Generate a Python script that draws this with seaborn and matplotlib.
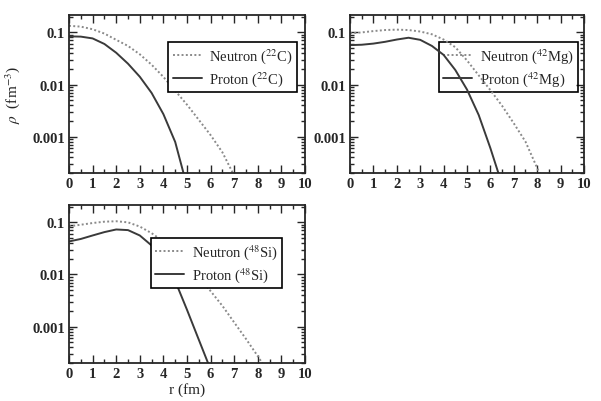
import numpy as np
import pandas as pd
import seaborn as sns
import matplotlib.pyplot as plt
from matplotlib.ticker import LogLocator, MultipleLocator, FixedLocator, NullFormatter

# --- data (rho in fm^-3 vs r in fm) ---
r_c_n = [0, 0.5, 1, 1.5, 2, 2.5, 3, 3.5, 4, 4.5, 5, 5.5, 6, 6.5, 7]
rho_c_n = [0.134, 0.129, 0.115, 0.095, 0.072, 0.055, 0.038, 0.024, 0.014,
           0.0076, 0.0041, 0.0021, 0.00107, 0.0005, 0.000178]
r_c_p = [0, 0.5, 1, 1.5, 2, 2.5, 3, 3.5, 4, 4.5, 5]
rho_c_p = [0.084, 0.083, 0.0767, 0.060, 0.0407, 0.0251, 0.0141, 0.0069,
           0.0027, 0.00079, 0.000112]

r_mg_n = [0, 0.5, 1, 1.5, 2, 2.5, 3, 3.5, 4, 4.5, 5, 5.5, 6, 6.5, 7, 7.5, 8, 8.5]
rho_mg_n = [0.096, 0.1, 0.106, 0.111, 0.113, 0.111, 0.104, 0.092, 0.073,
            0.052, 0.029, 0.015, 0.0078, 0.0039, 0.0018, 0.0008, 0.00025, 0.00008]
r_mg_p = [0, 0.5, 1, 1.5, 2, 2.5, 3, 3.5, 4, 4.5, 5, 5.5, 6, 6.5]
rho_mg_p = [0.057, 0.058, 0.061, 0.066, 0.073, 0.079, 0.072, 0.055, 0.037,
            0.019, 0.008, 0.0026, 0.0006, 0.00012]

r_si_n = [0, 0.5, 1, 1.5, 2, 2.5, 3, 3.5, 4, 4.5, 5, 5.5, 6, 6.5, 7, 7.5, 8, 8.5]
rho_si_n = [0.084, 0.09, 0.097, 0.103, 0.105, 0.1, 0.083, 0.062, 0.043,
            0.027, 0.016, 0.0088, 0.0048, 0.0025, 0.0012, 0.00058, 0.00027, 0.00012]
r_si_p = [0, 0.5, 1, 1.5, 2, 2.5, 3, 3.5, 4, 4.5, 5, 5.5, 6]
rho_si_p = [0.043, 0.048, 0.056, 0.065, 0.073, 0.071, 0.056, 0.036, 0.019,
            0.0075, 0.0021, 0.00056, 0.00015]

nuclei = ["$^{22}$C", "$^{42}$Mg", "$^{48}$Si"]
y_ticks = [0.1, 0.01, 0.001]
y_tick_labels = ["0.1", "0.01", "0.001"]
x_ticks = list(range(0, 11))

sns.set_style("ticks")
plt.rcParams["font.family"] = ["Liberation Serif", "DejaVu Serif"]
plt.rcParams["mathtext.fontset"] = "stix"

fig = plt.figure(figsize=(6.01, 4.02), dpi=100)
axes = [
    fig.add_axes([0.1148, 0.567, 0.3927, 0.393]),
    fig.add_axes([0.5824, 0.567, 0.3893, 0.393]),
    fig.add_axes([0.1148, 0.0945, 0.3927, 0.393]),
]

panels = [
    (r_c_n, rho_c_n, r_c_p, rho_c_p),
    (r_mg_n, rho_mg_n, r_mg_p, rho_mg_p),
    (r_si_n, rho_si_n, r_si_p, rho_si_p),
]
legend_anchor = [(0.966, 0.829), (0.975, 0.829), (0.903, 0.791)]

for i, (ax, (rn, dn, rp, dp)) in enumerate(zip(axes, panels)):
    df_n = pd.DataFrame({"r": rn, "rho": dn})
    df_p = pd.DataFrame({"r": rp, "rho": dp})
    sns.lineplot(data=df_n, x="r", y="rho", ax=ax, color="#8a8a8a",
                 linestyle=(0, (1.0, 1.2)), linewidth=1.4,
                 label="Neutron (" + nuclei[i] + ")")
    sns.lineplot(data=df_p, x="r", y="rho", ax=ax, color="#3a3a3a",
                 linewidth=1.4, label="Proton (" + nuclei[i] + ")")
    ax.set_yscale("log")
    ax.set_xlim(0, 10)
    ax.set_ylim(2e-4, 0.215)

    ax.xaxis.set_major_locator(FixedLocator(x_ticks))
    ax.xaxis.set_minor_locator(MultipleLocator(0.5))
    ax.yaxis.set_major_locator(FixedLocator(y_ticks))
    ax.set_yticklabels(y_tick_labels)
    ax.yaxis.set_minor_locator(LogLocator(base=10, subs=np.arange(2, 10)))
    ax.yaxis.set_minor_formatter(NullFormatter())
    ax.tick_params(which="both", direction="in", top=True, right=True,
                   width=1.0, labelsize=10.5, pad=3)
    ax.tick_params(which="major", length=5.5)
    ax.tick_params(which="minor", length=3)
    for lab in ax.get_xticklabels() + ax.get_yticklabels():
        lab.set_fontweight("bold")
    for sp in ax.spines.values():
        sp.set_linewidth(1.3)
    ax.set_xlabel("")
    ax.set_ylabel("")

    leg = ax.legend(loc="upper right", bbox_to_anchor=legend_anchor[i],
                    frameon=True, fancybox=False, fontsize=10.5,
                    handlelength=2.0, handletextpad=0.5, borderpad=0.3,
                    labelspacing=0.25, borderaxespad=0)
    leg.get_frame().set_edgecolor("black")
    leg.get_frame().set_linewidth(1.2)
    if i == 1:
        leg.get_frame().set_alpha(None)
        leg.get_frame().set_facecolor((1, 1, 1, 0))
        leg.set_zorder(1)
    else:
        leg.get_frame().set_alpha(1)
        leg.set_zorder(5)

axes[0].set_ylabel(r"$\rho$  (fm$^{-3}$)", fontsize=11)
axes[0].yaxis.set_label_coords(-0.2, 0.5)
axes[2].set_xlabel("r (fm)", fontsize=11)
axes[2].xaxis.set_label_coords(0.5, -0.12)

fig.savefig("out.png", dpi=100)
